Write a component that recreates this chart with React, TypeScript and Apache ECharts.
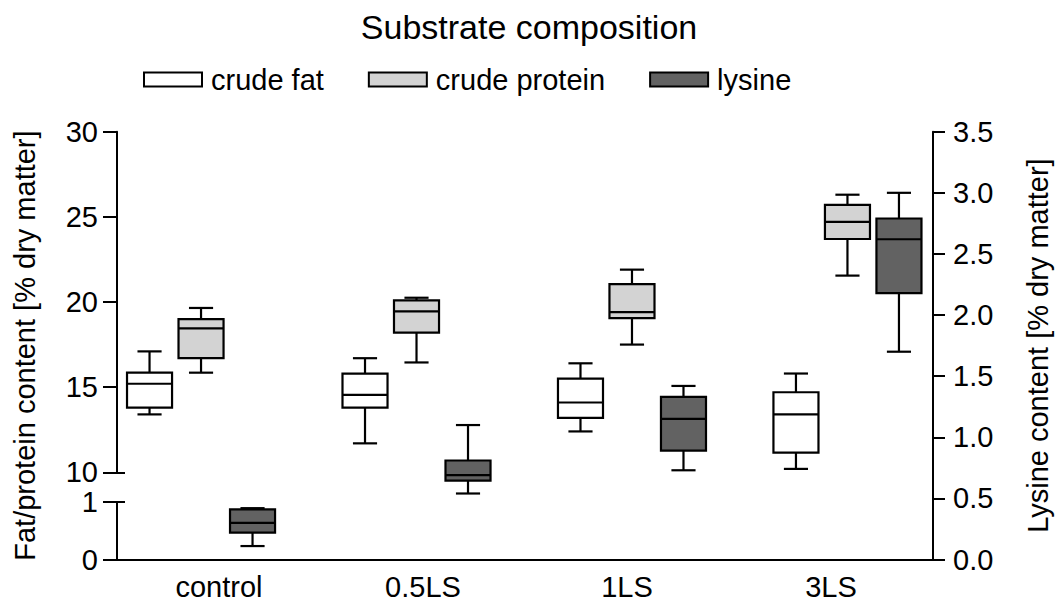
import React, { useEffect, useRef } from 'react';
import * as echarts from 'echarts';

// ---- data ----
const categories = ['control', '0.5LS', '1LS', '3LS'];
// each entry: [min, Q1, median, Q3, max]
const crudeFat = [
  [13.4, 13.8, 15.2, 15.85, 17.1],
  [11.7, 13.8, 14.55, 15.8, 16.7],
  [12.4, 13.2, 14.1, 15.5, 16.4],
  [10.2, 11.15, 13.4, 14.7, 15.8],
];
const crudeProtein = [
  [15.85, 16.7, 18.45, 19.0, 19.65],
  [16.45, 18.2, 19.45, 20.1, 20.25],
  [17.5, 19.05, 19.4, 21.05, 21.9],
  [21.55, 23.7, 24.7, 25.7, 26.3],
];
const lysine = [
  [0.11, 0.22, 0.3, 0.41, 0.42],
  [0.54, 0.645, 0.69, 0.81, 1.1],
  [0.73, 0.89, 1.15, 1.33, 1.42],
  [1.7, 2.18, 2.62, 2.79, 3.0],
];
const seriesNames = ['crude fat', 'crude protein', 'lysine'];
const upperRange = { min: 10, max: 30, interval: 5 };
const lowerRange = { min: 0, max: 1, interval: 1 };
const lysineRange = { min: 0, max: 3.5, interval: 0.5 };

// ---- style ----
const FONT = 'Liberation Sans, Arial, sans-serif';
const INK = '#000';
const FILLS = ['#ffffff', '#d3d3d3', '#626262'];
const SHIFTS = [-0.239, 0, 0.239];
const BOX_W = 0.209;
const CAP_W = 0.112;
const X_MIN = -0.39;
const X_MAX = 3.397;

const GRID_L = 117;
const GRID_R = 128;
const TOP = 131.7;
const BASE = 559.5;
const UPPER_BOTTOM = 472.3;
const LOWER_TOP = 502;

function makeRender(fill: string, shift: number) {
  return (params: any, api: any) => {
    const x = api.value(0);
    const lo = api.coord([x, api.value(1)]);
    const q1 = api.coord([x, api.value(2)]);
    const med = api.coord([x, api.value(3)]);
    const q3 = api.coord([x, api.value(4)]);
    const hi = api.coord([x, api.value(5)]);
    const unit = api.size([1, 0])[0];
    const cx = lo[0] + shift * unit;
    const half = (BOX_W * unit) / 2;
    const cap = (CAP_W * unit) / 2;
    const st = { stroke: INK, lineWidth: 2.2 };
    return {
      type: 'group',
      children: [
        { type: 'line', shape: { x1: cx, y1: q3[1], x2: cx, y2: hi[1] }, style: st },
        { type: 'line', shape: { x1: cx, y1: q1[1], x2: cx, y2: lo[1] }, style: st },
        { type: 'line', shape: { x1: cx - cap, y1: hi[1], x2: cx + cap, y2: hi[1] }, style: st },
        { type: 'line', shape: { x1: cx - cap, y1: lo[1], x2: cx + cap, y2: lo[1] }, style: st },
        {
          type: 'rect',
          shape: { x: cx - half, y: q3[1], width: 2 * half, height: q1[1] - q3[1] },
          style: { fill, stroke: INK, lineWidth: 2.2 },
        },
        { type: 'line', shape: { x1: cx - half, y1: med[1], x2: cx + half, y2: med[1] }, style: st },
      ],
    };
  };
}

export default function App() {
  const ref = useRef<HTMLDivElement>(null);
  useEffect(() => {
    if (!ref.current) return;
    const chart = echarts.init(ref.current, undefined, { renderer: 'svg' });
    const axisLine = { show: true, onZero: false, lineStyle: { color: INK, width: 2 } };
    const tickStyle = { color: INK, width: 2 };
    const labelStyle = { color: INK, fontSize: 29, fontFamily: FONT, margin: 19 };
    const hiddenX = (gridIndex: number, position: string) => ({
      type: 'value', gridIndex, min: X_MIN, max: X_MAX, show: false, position,
      axisLine: { show: false, onZero: false },
    });
    const option: any = {
      animation: false,
      backgroundColor: '#fff',
      textStyle: { fontFamily: FONT, color: INK },
      title: {
        text: 'Substrate composition',
        left: 524,
        textAlign: 'center',
        top: 5,
        textStyle: { fontSize: 34, fontWeight: 'normal', color: INK, fontFamily: FONT },
      },
      legend: {
        left: 138,
        top: 60,
        itemWidth: 58,
        itemHeight: 14,
        itemGap: 44,
        selectedMode: false,
        textStyle: { fontSize: 29, color: INK, fontFamily: FONT, padding: [0, 0, 0, 4] },
        data: seriesNames.map((name, i) => ({
          name,
          icon: 'rect',
          itemStyle: { color: FILLS[i], borderColor: INK, borderWidth: 2 },
        })),
      },
      grid: [
        { left: GRID_L, right: GRID_R, top: TOP, height: UPPER_BOTTOM - TOP },
        { left: GRID_L, right: GRID_R, top: LOWER_TOP, height: BASE - LOWER_TOP },
        { left: GRID_L, right: GRID_R, top: TOP, height: BASE - TOP },
      ],
      xAxis: [
        hiddenX(0, 'bottom'),
        hiddenX(1, 'bottom'),
        {
          type: 'category',
          gridIndex: 2,
          position: 'bottom',
          data: categories,
          boundaryGap: true,
          axisLine,
          axisTick: { show: false },
          axisLabel: { color: INK, fontSize: 29, fontFamily: FONT, margin: 13 },
          splitLine: { show: false },
        },
        hiddenX(2, 'top'),
      ],
      yAxis: [
        {
          type: 'value', gridIndex: 0, position: 'left', ...upperRange,
          axisLine, axisTick: { show: true, length: 14, lineStyle: tickStyle },
          axisLabel: labelStyle, splitLine: { show: false },
        },
        {
          type: 'value', gridIndex: 0, position: 'left', ...upperRange,
          axisLine: { show: false, onZero: false },
          axisTick: { show: true, inside: true, length: 8, lineStyle: tickStyle, customValues: [upperRange.min] },
          axisLabel: { show: false }, splitLine: { show: false },
        },
        {
          type: 'value', gridIndex: 1, position: 'left', ...lowerRange,
          axisLine, axisTick: { show: true, length: 14, lineStyle: tickStyle },
          axisLabel: labelStyle, splitLine: { show: false },
        },
        {
          type: 'value', gridIndex: 1, position: 'left', ...lowerRange,
          axisLine: { show: false, onZero: false },
          axisTick: { show: true, inside: true, length: 8, lineStyle: tickStyle, customValues: [lowerRange.max] },
          axisLabel: { show: false }, splitLine: { show: false },
        },
        {
          type: 'value', gridIndex: 2, position: 'right', ...lysineRange,
          axisLine, axisTick: { show: true, length: 12, lineStyle: tickStyle },
          axisLabel: { ...labelStyle, margin: 20, formatter: (v: number) => v.toFixed(1) },
          splitLine: { show: false },
          name: 'Lysine content [% dry matter]',
          nameLocation: 'middle',
          nameRotate: 90,
          nameGap: 90,
          nameTextStyle: { fontSize: 29, color: INK, fontFamily: FONT },
        },
        {
          type: 'value', gridIndex: 2, position: 'left', min: 0, max: 1,
          axisLine: { show: false, onZero: false }, axisTick: { show: false }, axisLabel: { show: false },
          splitLine: { show: false },
          name: 'Fat/protein content [% dry matter]',
          nameLocation: 'middle',
          nameRotate: 90,
          nameGap: 78,
          nameTextStyle: { fontSize: 29, color: INK, fontFamily: FONT },
        },
      ],
      series: [
        {
          name: seriesNames[0], type: 'custom', xAxisIndex: 0, yAxisIndex: 0,
          itemStyle: { color: FILLS[0], borderColor: INK },
          encode: { x: 0, y: [1, 2, 3, 4, 5] },
          renderItem: makeRender(FILLS[0], SHIFTS[0]),
          data: crudeFat.map((d, i) => [i, ...d]),
        },
        {
          name: seriesNames[1], type: 'custom', xAxisIndex: 0, yAxisIndex: 0,
          itemStyle: { color: FILLS[1], borderColor: INK },
          encode: { x: 0, y: [1, 2, 3, 4, 5] },
          renderItem: makeRender(FILLS[1], SHIFTS[1]),
          data: crudeProtein.map((d, i) => [i, ...d]),
        },
        {
          name: seriesNames[2], type: 'custom', xAxisIndex: 3, yAxisIndex: 4,
          itemStyle: { color: FILLS[2], borderColor: INK },
          encode: { x: 0, y: [1, 2, 3, 4, 5] },
          renderItem: makeRender(FILLS[2], SHIFTS[2]),
          data: lysine.map((d, i) => [i, ...d]),
        },
      ],
    };
    chart.setOption(option);
    return () => chart.dispose();
  }, []);
  return (
    <div
      ref={ref}
      style={{ position: 'absolute', left: 0, top: 0, width: 1061, height: 608, background: '#fff' }}
    />
  );
}
